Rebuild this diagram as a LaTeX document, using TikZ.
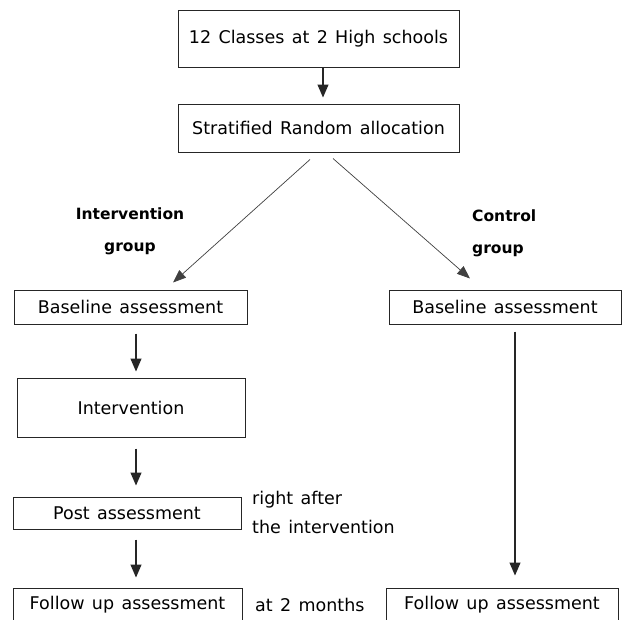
\documentclass[tikz,border=0pt]{standalone}
\usepackage{fontspec}
\setmainfont{DejaVu Sans}
\usetikzlibrary{arrows.meta}
\newcommand\boxfontx{\fontsize{17.5}{20}\selectfont\spaceskip=0.42em plus 0.1em\relax}
\newcommand\notefontx{\fontsize{17.5}{29}\selectfont\spaceskip=0.42em plus 0.1em\relax}
\begin{document}
\begin{tikzpicture}[x=1pt,y=-1pt,
  box/.style={draw=black!85, line width=1pt, rectangle, inner sep=0pt, font=\boxfontx},
  arr/.style={-{Triangle[length=13pt,width=11pt]}, line width=1.1pt, draw=black!85},
  diag/.style={-{Triangle[length=13pt,width=10pt]}, line width=0.7pt, draw=black!75},
  lbl/.style={font=\bfseries\fontsize{15.5}{32}\selectfont, align=center, inner sep=0pt},
  lblleft/.style={font=\bfseries\fontsize{15.5}{32}\selectfont, align=left, anchor=west, inner sep=0pt},
  note/.style={font=\notefontx, align=left, anchor=west, inner sep=0pt}]
\clip (0,0) rectangle (623,619);
\fill[white] (0,0) rectangle (623,619);
% top
\node[box, minimum width=281pt, minimum height=57pt] (n1) at (318.5,38.5) {12 Classes at 2 High schools};
\node[box, minimum width=281pt, minimum height=48pt] (n2) at (318.5,128) {Stratified Random allocation};
% group labels
\node[lbl] (gi) at (130,231) {Intervention\\group};
\node[lblleft] (gc) at (472,233) {Control\\group};
% left column
\node[box, minimum width=233pt, minimum height=34pt] (bl) at (130.5,307) {Baseline assessment};
\node[box, minimum width=228pt, minimum height=59pt] (iv) at (131,407.5) {Intervention};
\node[box, minimum width=228pt, minimum height=32pt] (post) at (127,513) {Post assessment};
\node[box, minimum width=229pt, minimum height=34pt] (fu) at (127.5,605) {Follow up assessment};
% right column
\node[box, minimum width=232pt, minimum height=34pt] (br) at (505,307) {Baseline assessment};
\node[box, minimum width=232pt, minimum height=34pt] (fr) at (502,605) {Follow up assessment};
% notes
\node[note] (na) at (252,512) {right after\\the intervention};
\node[note] (nm) at (255,605) {at 2 months};
% connectors
\draw[arr] ([xshift=4.5pt]n1.south) -- ([xshift=4.5pt,yshift=6pt]n2.north);
\draw[diag] ([xshift=-8.5pt,yshift=-7pt]n2.south) -- ([xshift=42.5pt,yshift=7pt]bl.north);
\draw[diag] ([xshift=14.5pt,yshift=-6pt]n2.south) -- ([xshift=-35pt,yshift=11pt]br.north);
\draw[arr] ([xshift=5.5pt,yshift=-9pt]bl.south) -- ([xshift=5pt,yshift=6pt]iv.north);
\draw[arr] ([xshift=5pt,yshift=-11pt]iv.south) -- ([xshift=9pt,yshift=11pt]post.north);
\draw[arr] ([xshift=9pt,yshift=-10pt]post.south) -- ([xshift=8.5pt,yshift=10pt]fu.north);
\draw[arr] ([xshift=10pt,yshift=-7pt]br.south) -- ([xshift=13pt,yshift=12pt]fr.north);
\end{tikzpicture}
\end{document}
